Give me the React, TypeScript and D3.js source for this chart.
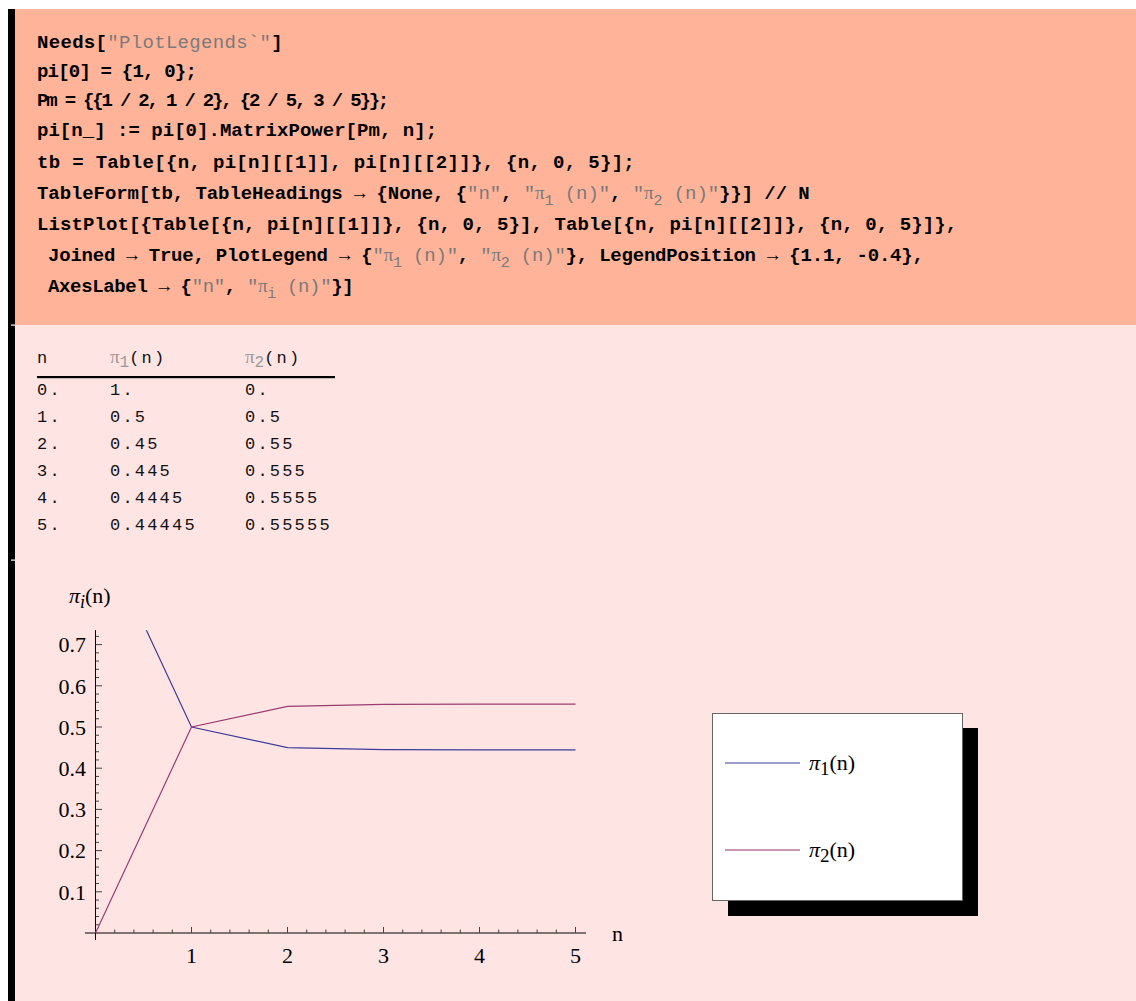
import React from "react";
import * as d3 from "d3";

// ---------- data ----------
const N_VALUES = [0, 1, 2, 3, 4, 5];
const PI1 = [1, 0.5, 0.45, 0.445, 0.4445, 0.44445];
const PI2 = [0, 0.5, 0.55, 0.555, 0.5555, 0.55555];
const TABLE_N = ["0.", "1.", "2.", "3.", "4.", "5."];
const TABLE_PI1 = ["1.", "0.5", "0.45", "0.445", "0.4445", "0.44445"];
const TABLE_PI2 = ["0.", "0.5", "0.55", "0.555", "0.5555", "0.55555"];
const X_TICKS = [1, 2, 3, 4, 5];
const Y_TICKS = [0.1, 0.2, 0.3, 0.4, 0.5, 0.6, 0.7];
const SERIES_NAMES = ["1", "2"];

type Seg = [string, "k" | "s" | "b" | "p"];
const CODE_LINES: { segs: Seg[]; x: number; end: number; y: number }[] = [
  { segs: [["Needs[", "k"], ['"PlotLegends`"', "s"], ["]", "k"]], x: 37, end: 283, y: 48 },
  { segs: [["pi[0] = {1, 0};", "k"]], x: 37, end: 196, y: 77 },
  { segs: [["Pm = {{1 / 2, 1 / 2}, {2 / 5, 3 / 5}};", "k"]], x: 37, end: 387, y: 106 },
  { segs: [["pi[n_] := pi[0].MatrixPower[Pm, n];", "k"]], x: 37, end: 437, y: 136 },
  { segs: [["tb = Table[{n, pi[n][[1]], pi[n][[2]]}, {n, 0, 5}];", "k"]], x: 37, end: 635, y: 168 },
  {
    segs: [
      ["TableForm[tb, TableHeadings \u2192 {None, {", "k"],
      ['"n"', "s"], [", ", "k"], ['"', "s"], ["\u03c0", "p"], ["1", "b"], [' (n)"', "s"], [", ", "k"],
      ['"', "s"], ["\u03c0", "p"], ["2", "b"], [' (n)"', "s"], ["}}] // N", "k"],
    ],
    x: 37, end: 813, y: 199,
  },
  {
    segs: [["ListPlot[{Table[{n, pi[n][[1]]}, {n, 0, 5}], Table[{n, pi[n][[2]]}, {n, 0, 5}]},", "k"]],
    x: 37, end: 957, y: 230,
  },
  {
    segs: [
      ["Joined \u2192 True, PlotLegend \u2192 {", "k"],
      ['"', "s"], ["\u03c0", "p"], ["1", "b"], [' (n)"', "s"], [", ", "k"],
      ['"', "s"], ["\u03c0", "p"], ["2", "b"], [' (n)"', "s"], ["}, LegendPosition \u2192 {1.1, -0.4},", "k"],
    ],
    x: 48, end: 927, y: 261,
  },
  {
    segs: [
      ["AxesLabel \u2192 {", "k"], ['"n"', "s"], [", ", "k"],
      ['"', "s"], ["\u03c0", "p"], ["i", "b"], [' (n)"', "s"], ["}]", "k"],
    ],
    x: 48, end: 355, y: 292,
  },
];

const COLORS = ["#3d3d99", "#993d71"];
const CODE_FS = 19;
const SUB_FS = 15;
const MONO = "'Liberation Mono', 'DejaVu Sans Mono', monospace";
const SERIF = "'Liberation Serif', 'DejaVu Serif', serif";

function CodeLine({ line }: { line: (typeof CODE_LINES)[number] }) {
  let nMain = 0;
  let nSub = 0;
  line.segs.forEach(([t, k]) => {
    if (k === "b") nSub += t.length;
    else nMain += t.length;
  });
  const natural = nMain * 0.6 * CODE_FS + nSub * 0.6 * SUB_FS;
  const ls = (line.end - line.x - natural) / (nMain + nSub);
  const parts: React.ReactNode[] = [];
  let lowered = false;
  line.segs.forEach(([t, k], i) => {
    let dy = 0;
    if (k === "b" && !lowered) { dy = 6; lowered = true; }
    else if (k !== "b" && lowered) { dy = -6; lowered = false; }
    parts.push(
      <tspan
        key={i}
        dy={dy || undefined}
        fill={k === "k" ? "#000" : "#7a7a7a"}
        fontWeight={k === "k" ? "bold" : "normal"}
        fontSize={k === "b" ? SUB_FS : CODE_FS}
        fontFamily={k === "p" ? SERIF : undefined}
      >
        {t}
      </tspan>
    );
  });
  return (
    <text x={line.x} y={line.y} fontFamily={MONO} fontSize={CODE_FS} letterSpacing={ls} style={{ whiteSpace: "pre" }}>
      {parts}
    </text>
  );
}

export default function App() {
  const x = d3.scaleLinear().domain([0, 5]).range([95.5, 575.5]);
  const y = d3.scaleLinear().domain([0, 0.7]).range([933, 644.6]);
  const line = d3
    .line<number>()
    .x((_, i) => x(N_VALUES[i]))
    .y((d) => y(d));

  const xMinor = d3.range(1, 26).map((i) => i * 0.2).filter((v) => Math.abs(v - Math.round(v)) > 1e-6);
  const yMinor = d3.range(1, 37).map((i) => i * 0.02).filter((v) => Math.abs(v * 10 - Math.round(v * 10)) > 1e-6);
  const y0 = y(0);
  const xAxisX = x(0);

  const tableFS = 17;
  const tableLS = 2.2;
  const rowY = (i: number) => 395 + i * 27;

  return (
    <svg
      width={1136}
      height={1001}
      style={{ position: "absolute", left: 0, top: 0, display: "block" }}
    >
      <defs>
        <clipPath id="plotclip">
          <rect x={x(0) - 1} y={y(0.735)} width={x(5.11) - x(0) + 1} height={y(-0.02) - y(0.735)} />
        </clipPath>
      </defs>
      {/* background */}
      <rect x={0} y={0} width={1136} height={1001} fill="#ffffff" />
      <rect x={15} y={9} width={1121} height={316} fill="#ffb399" />
      <rect x={15} y={325} width={1121} height={676} fill="#ffe4e4" />
      <rect x={8} y={9} width={7} height={992} fill="#000" />
      <rect x={11} y={324.5} width={4} height={1.2} fill="#fff" />
      <rect x={11} y={559.5} width={4} height={1.2} fill="#fff" />

      {/* code */}
      {CODE_LINES.map((l, i) => (
        <CodeLine key={i} line={l} />
      ))}

      {/* table */}
      <g fontFamily={MONO} fontSize={tableFS} letterSpacing={tableLS} fill="#111">
        <text x={37} y={363}>n</text>
        <text x={110} y={363}>
          <tspan fill="#999" fontFamily={SERIF} letterSpacing={0} fontSize={19}>{"\u03c0"}</tspan>
          <tspan fill="#999" fontSize={16} dy={4} letterSpacing={0}>1</tspan>
          <tspan dy={-4}>(n)</tspan>
        </text>
        <text x={245} y={363}>
          <tspan fill="#999" fontFamily={SERIF} letterSpacing={0} fontSize={19}>{"\u03c0"}</tspan>
          <tspan fill="#999" fontSize={16} dy={4} letterSpacing={0}>2</tspan>
          <tspan dy={-4}>(n)</tspan>
        </text>
        <rect x={37} y={376} width={298} height={2.2} fill="#000" />
        {TABLE_N.map((t, i) => (
          <g key={i}>
            <text x={37} y={rowY(i)}>{t}</text>
            <text x={110} y={rowY(i)}>{TABLE_PI1[i]}</text>
            <text x={245} y={rowY(i)}>{TABLE_PI2[i]}</text>
          </g>
        ))}
      </g>

      {/* plot axes */}
      <g stroke="#000" strokeWidth={1} fill="none">
        <line x1={x(-0.11)} x2={x(5.11)} y1={y0} y2={y0} />
        <line x1={xAxisX} x2={xAxisX} y1={y(-0.017)} y2={y(0.735)} />
        {X_TICKS.map((v) => (
          <line key={"xm" + v} x1={x(v)} x2={x(v)} y1={y0} y2={y0 - 6} stroke="#444" />
        ))}
        {xMinor.map((v) => (
          <line key={"xn" + v} x1={x(v)} x2={x(v)} y1={y0} y2={y0 - 3.5} stroke="#444" />
        ))}
        {Y_TICKS.map((v) => (
          <line key={"ym" + v} x1={xAxisX} x2={xAxisX + 6.5} y1={y(v)} y2={y(v)} stroke="#444" />
        ))}
        {yMinor.map((v) => (
          <line key={"yn" + v} x1={xAxisX} x2={xAxisX + 3.5} y1={y(v)} y2={y(v)} stroke="#444" />
        ))}
      </g>
      <g fontFamily={SERIF} fontSize={22} fill="#000">
        {Y_TICKS.map((v) => (
          <text key={"yl" + v} x={86} y={y(v)} dy="0.35em" textAnchor="end">
            {v.toFixed(1)}
          </text>
        ))}
        {X_TICKS.map((v) => (
          <text key={"xl" + v} x={x(v)} y={963} textAnchor="middle">
            {v}
          </text>
        ))}
        <text x={612} y={941}>n</text>
        <text x={69} y={603}>
          <tspan fontStyle="italic">{"\u03c0"}</tspan>
          <tspan fontStyle="italic" fontSize={18} dy={5}>i</tspan>
          <tspan dy={-5}>(n)</tspan>
        </text>
      </g>

      {/* series */}
      <g clipPath="url(#plotclip)" fill="none" strokeWidth={1.2}>
        <path d={line(PI1) || ""} stroke={COLORS[0]} />
        <path d={line(PI2) || ""} stroke={COLORS[1]} />
      </g>

      {/* legend */}
      <rect x={728} y={728} width={250} height={188} fill="#000" />
      <rect x={712.5} y={713.5} width={250} height={187} fill="#fff" stroke="#666" strokeWidth={1} />
      {SERIES_NAMES.map((s, i) => {
        const ly = 763 + i * 87;
        return (
          <g key={s}>
            <line x1={725} x2={800} y1={ly} y2={ly} stroke={COLORS[i]} strokeWidth={i === 1 ? 1.6 : 1.2} strokeOpacity={i === 1 ? 0.7 : 1} />
            <text x={809} y={ly + 7} fontFamily={SERIF} fontSize={22} fill="#000">
              <tspan fontStyle="italic">{"\u03c0"}</tspan>
              <tspan fontSize={19} dy={5}>{s}</tspan>
              <tspan dy={-5}>(n)</tspan>
            </text>
          </g>
        );
      })}
    </svg>
  );
}
